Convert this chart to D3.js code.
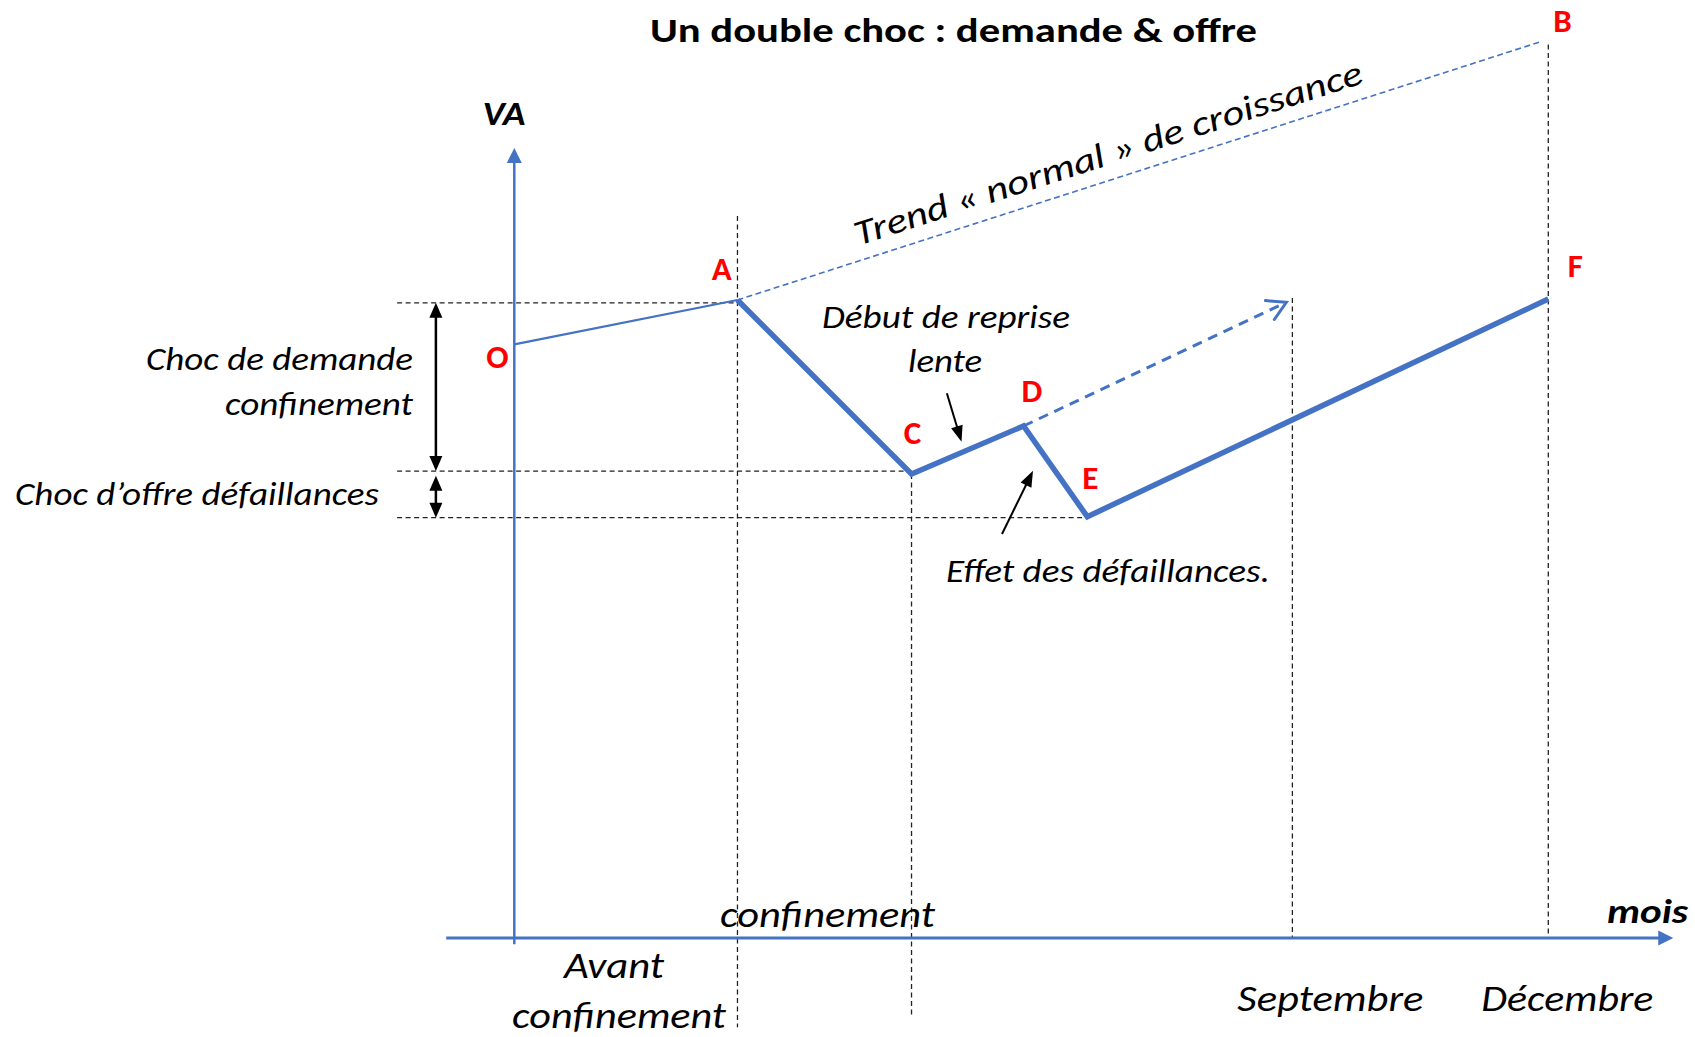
<!DOCTYPE html>
<html>
<head>
<meta charset="utf-8">
<script src="https://cdn.jsdelivr.net/npm/d3@7"></script>
<style>
  body { margin: 0; background: #fff; }
  text { font-family: Carlito, "Open Sans", sans-serif; }
</style>
</head>
<body>
<svg id="chart"></svg>
<script>
// --- data (x in months, y in VA units) ---
const pointNames = ["O", "A", "C", "D", "E", "F"];
const pointMonths = [0, 2.59, 4.61, 5.91, 6.65, 12];
const pointVA = [75.15, 80.76, 58.73, 64.81, 53.33, 80.89];

// "normal" growth trend A -> B
const trendNames = ["A", "B"];
const trendMonths = [2.59, 11.91];
const trendVA = [80.76, 113.45];

// expected slow recovery from D
const recoveryMonths = [5.91, 8.96];
const recoveryVA = [64.81, 80.47];

// month markers on the time axis
const monthTicks = [9.03, 12];
const monthLabels = ["Septembre", "Décembre"];

// vertical guides
const guideMonths = [2.59, 4.61, 9.03, 12];
const guideTop = [91.4, 58.73, 81.0, 113.1];
const guideBottom = [-11.3, -9.9, 0, 0];

// horizontal guides (levels of A, C, E)
const levelVA = [80.4, 59.1, 53.2];
const levelEnd = [2.59, 4.61, 6.65];

// shock sizes (double arrows)
const shockFrom = [80.4, 58.5];
const shockTo = [59.1, 53.2];

var W = 1695, H = 1037;
var blue = "#4472C4";

var svg = d3.select("#chart")
    .attr("width", W)
    .attr("height", H);

var x = d3.scaleLinear().domain([0, 12]).range([514.3, 1548.3]);
var y = d3.scaleLinear().domain([0, 100]).range([938, 148]);

// draw a line with filled triangle heads (drawn by hand so the stroke doesn't poke through)
function arrowLine(x1, y1, x2, y2, o) {
    var dx = x2 - x1, dy = y2 - y1;
    var len = Math.sqrt(dx * dx + dy * dy);
    var ux = dx / len, uy = dy / len;
    var hl = o.headLen, hw = o.headWid;
    var sx = x1, sy = y1, ex = x2, ey = y2;
    function head(tx, ty, dirx, diry) {
        var bx = tx - dirx * hl, by = ty - diry * hl;
        var px = -diry * hw / 2, py = dirx * hw / 2;
        svg.append("path")
            .attr("d", "M" + tx + "," + ty + "L" + (bx + px) + "," + (by + py) + "L" + (bx - px) + "," + (by - py) + "Z")
            .attr("fill", o.color);
    }
    if (o.end) { ex = x2 - ux * hl * 0.7; ey = y2 - uy * hl * 0.7; }
    if (o.start) { sx = x1 + ux * hl * 0.7; sy = y1 + uy * hl * 0.7; }
    svg.append("line")
        .attr("x1", sx).attr("y1", sy).attr("x2", ex).attr("y2", ey)
        .attr("stroke", o.color)
        .attr("stroke-width", o.width);
    if (o.end) head(x2, y2, ux, uy);
    if (o.start) head(x1, y1, -ux, -uy);
}

// horizontal dashed guides
levelVA.forEach(function(v, i) {
    svg.append("line")
        .attr("x1", x(-1.36)).attr("x2", x(levelEnd[i]))
        .attr("y1", y(v)).attr("y2", y(v))
        .attr("stroke", "#222").attr("stroke-width", 1.3)
        .attr("stroke-dasharray", "5,3.5");
});

// vertical dashed guides
guideMonths.forEach(function(m, i) {
    svg.append("line")
        .attr("x1", x(m)).attr("x2", x(m))
        .attr("y1", y(guideTop[i])).attr("y2", y(guideBottom[i]))
        .attr("stroke", "#222").attr("stroke-width", 1.3)
        .attr("stroke-dasharray", "5,3.5");
});

// axes
arrowLine(x(-0.79), y(0), x(13.45), y(0), {color: blue, width: 3, end: true, headLen: 15, headWid: 15});
arrowLine(x(0), y(-0.8), x(0), y(100), {color: blue, width: 2.5, end: true, headLen: 15, headWid: 15});

// trend line A -> B
var trendPts = trendMonths.map(function(m, i) { return [m, trendVA[i]]; });
var line = d3.line()
    .x(function(d) { return x(d[0]); })
    .y(function(d) { return y(d[1]); });

svg.append("path")
    .datum(trendPts)
    .attr("fill", "none")
    .attr("stroke", blue)
    .attr("stroke-width", 1.6)
    .attr("stroke-dasharray", "6,3.5")
    .attr("d", line);

// recovery dashed arrow from D
var recPts = recoveryMonths.map(function(m, i) { return [m, recoveryVA[i]]; });
svg.append("path")
    .datum(recPts)
    .attr("fill", "none")
    .attr("stroke", blue)
    .attr("stroke-width", 3)
    .attr("stroke-dasharray", "10,7")
    .attr("d", line);
(function() {
    var tx = x(recPts[1][0]), ty = y(recPts[1][1]);
    var ang = Math.atan2(ty - y(recPts[0][1]), tx - x(recPts[0][0]));
    var arm = 21, spread = 0.52;
    svg.append("path")
        .attr("d", "M" + (tx - arm * Math.cos(ang - spread)) + "," + (ty - arm * Math.sin(ang - spread)) +
                   "L" + tx + "," + ty +
                   "L" + (tx - arm * Math.cos(ang + spread)) + "," + (ty - arm * Math.sin(ang + spread)))
        .attr("fill", "none")
        .attr("stroke", blue)
        .attr("stroke-width", 3)
        .attr("stroke-linecap", "round");
})();

// main VA path: O-A thin, A..F thick
var pts = pointMonths.map(function(m, i) { return [m, pointVA[i]]; });
svg.append("path")
    .datum(pts.slice(0, 2))
    .attr("fill", "none")
    .attr("stroke", blue)
    .attr("stroke-width", 2.2)
    .attr("d", line);
svg.append("path")
    .datum(pts.slice(1))
    .attr("fill", "none")
    .attr("stroke", blue)
    .attr("stroke-width", 5.5)
    .attr("stroke-linejoin", "miter")
    .attr("d", line);

// shock double arrows
shockFrom.forEach(function(v, i) {
    arrowLine(x(-0.91), y(v), x(-0.91), y(shockTo[i]),
        {color: "#000", width: 2.5, start: true, end: true, headLen: 15, headWid: 13});
});

// annotation arrows
arrowLine(x(5.02), y(68.95), x(5.19), y(62.82), {color: "#000", width: 2, end: true, headLen: 16, headWid: 12});
arrowLine(x(5.66), y(51.14), x(6.02), y(59.15), {color: "#000", width: 2, end: true, headLen: 16, headWid: 12});

// point letters
var labelOffset = {
    O: [-17, 24], A: [-15.6, -20], B: [22, -9.5], C: [1, -30],
    D: [8.4, -24], E: [3, -28], F: [27, -22]
};
var allNames = pointNames.concat(trendNames.slice(1));
var allMonths = pointMonths.concat(trendMonths.slice(1));
var allVA = pointVA.concat(trendVA.slice(1));
svg.selectAll("text.pt")
    .data(allNames)
    .enter()
    .append("text")
    .attr("class", "pt")
    .attr("x", function(d, i) { return x(allMonths[i]) + labelOffset[d][0]; })
    .attr("y", function(d, i) { return y(allVA[i]) + labelOffset[d][1]; })
    .attr("text-anchor", "middle")
    .attr("font-size", "33px")
    .attr("font-weight", "bold")
    .attr("fill", "#FF0000")
    .text(function(d) { return d; });

// texts
function addText(str, tx, ty, o) {
    var t = svg.append("text")
        .attr("x", tx).attr("y", ty)
        .attr("text-anchor", o.anchor || "start")
        .attr("font-size", o.size + "px")
        .attr("font-style", o.italic ? "italic" : "normal")
        .attr("font-weight", o.bold ? "bold" : "normal")
        .attr("fill", "#000")
        .text(str);
    if (o.len) t.attr("textLength", o.len).attr("lengthAdjust", "spacingAndGlyphs");
    return t;
}

addText("Un double choc : demande & offre", 953.5, 42, {anchor: "middle", size: 35, bold: true, len: 607});
addText("VA", 504, 125, {anchor: "middle", size: 34, bold: true, italic: true, len: 43});
addText("mois", 1688, 923, {anchor: "end", size: 35, bold: true, italic: true, len: 81});

addText("Choc de demande", 413, 370, {anchor: "end", size: 33, italic: true, len: 267});
addText("confinement", 413, 415, {anchor: "end", size: 33, italic: true, len: 188});
addText("Choc d\u2019offre défaillances", 15, 505, {anchor: "start", size: 33, italic: true, len: 364});
addText("Début de reprise", 946, 328, {anchor: "middle", size: 33, italic: true, len: 248});
addText("lente", 945, 372, {anchor: "middle", size: 33, italic: true, len: 74});
addText("Effet des défaillances.", 946, 581.5, {anchor: "start", size: 33, italic: true, len: 324});

addText("confinement", 827.4, 926.7, {anchor: "middle", size: 36, italic: true, len: 215});
addText("Avant", 614, 978, {anchor: "middle", size: 36, italic: true, len: 100});
addText("confinement", 619, 1028, {anchor: "middle", size: 36, italic: true, len: 214});

var monthDx = [38, 19];
monthTicks.forEach(function(m, i) {
    addText(monthLabels[i], x(m) + monthDx[i], 1010.5, {anchor: "middle", size: 36, italic: true, len: i == 0 ? 186 : 172});
});

// trend label, parallel to the trend line
(function() {
    var x0 = x(trendMonths[0]), y0 = y(trendVA[0]);
    var x1 = x(trendMonths[1]), y1 = y(trendVA[1]);
    var ang = Math.atan2(y1 - y0, x1 - x0) * 180 / Math.PI;
    var cx = 1111.5;
    var cy = y0 + (cx - x0) * (y1 - y0) / (x1 - x0) - 15.5;
    addText("Trend « normal » de croissance", 0, 0, {anchor: "middle", size: 35, italic: true, len: 532})
        .attr("transform", "translate(" + cx + "," + cy + ") rotate(" + ang + ")");
})();
</script>
</body>
</html>
